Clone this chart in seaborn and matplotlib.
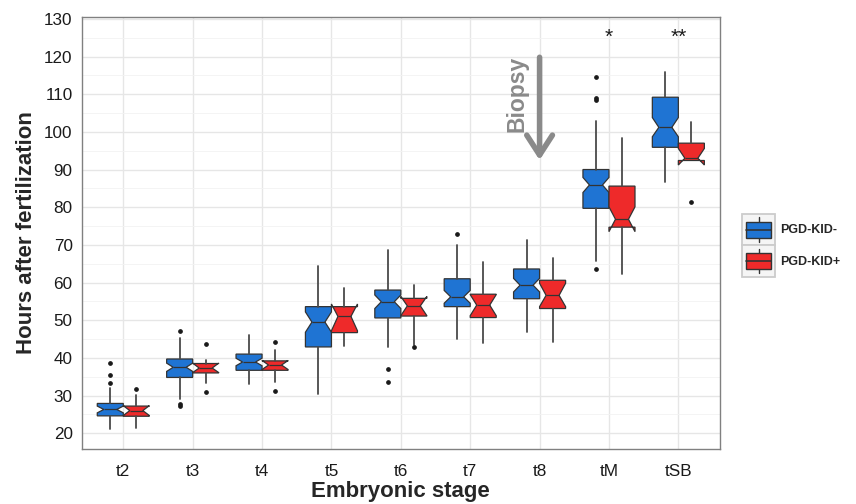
import numpy as np
import matplotlib
matplotlib.use('Agg')
import matplotlib.pyplot as plt
import seaborn as sns
from matplotlib.legend_handler import HandlerBase
from matplotlib.patches import Rectangle, Patch
from matplotlib.lines import Line2D

# categories / groups
stages = ['t2', 't3', 't4', 't5', 't6', 't7', 't8', 'tM', 'tSB']
groups = ['PGD-KID-', 'PGD-KID+']
colours = ['#1f74d3', '#ee2a2a']
EDGE = '#333333'

# PGD-KID-  (box statistics, hours)
neg_whislo = [21.2, 29.0, 33.0, 30.4, 42.9, 45.1, 46.9, 65.8, 86.6]
neg_q1 = [24.6, 34.8, 36.7, 42.9, 50.6, 53.6, 55.7, 79.7, 95.9]
neg_med = [26.3, 37.5, 38.9, 49.5, 54.9, 56.2, 59.3, 85.9, 101.2]
neg_q3 = [27.9, 39.7, 41.0, 53.6, 58.0, 61.0, 63.6, 90.0, 109.2]
neg_whishi = [31.9, 45.2, 46.0, 64.4, 68.6, 69.9, 71.4, 102.9, 116.0]
neg_notch_lo = [25.4, 36.4, 37.9, 46.8, 53.1, 54.5, 57.5, 83.9, 98.7]
neg_notch_hi = [27.2, 38.6, 39.9, 52.2, 56.7, 57.9, 61.1, 87.9, 103.8]
neg_fliers = [[33.2, 35.4, 38.7], [27.8, 27.2, 47.2], [], [], [37.0, 33.5],
              [72.9], [], [114.5, 109.1, 108.5, 63.5], []]

# PGD-KID+
pos_whislo = [21.5, 33.2, 33.6, 43.2, 43.4, 44.0, 44.3, 62.3, 92.4]
pos_q1 = [24.5, 36.0, 36.7, 46.7, 51.1, 50.7, 53.1, 74.7, 92.4]
pos_med = [26.0, 37.3, 38.1, 51.0, 53.8, 54.0, 56.6, 76.8, 93.0]
pos_q3 = [27.2, 38.5, 39.2, 53.6, 55.8, 56.9, 60.6, 85.6, 97.0]
pos_whishi = [30.1, 39.3, 42.2, 58.6, 59.3, 65.5, 66.4, 98.3, 102.5]
pos_notch_lo = [24.7, 36.1, 36.9, 47.2, 51.2, 51.2, 53.6, 73.5, 91.2]
pos_notch_hi = [27.3, 38.6, 39.3, 54.3, 56.3, 56.8, 59.8, 80.1, 95.6]
pos_fliers = [[31.7], [43.8, 31.0], [44.3, 31.3], [], [42.9], [], [], [], [81.5]]

# significance marks
star_stages = ['tM', 'tSB']
star_labels = ['*', '**']
star_y = 125.0

# biopsy arrow
biopsy_stage = 't8'
biopsy_from, biopsy_to = 119.8, 92.5


def make_stats(whislo, q1, med, q3, whishi, nlo, nhi, fliers):
    stats = []
    for i in range(len(stages)):
        stats.append(dict(whislo=whislo[i], q1=q1[i], med=med[i], q3=q3[i],
                          whishi=whishi[i], cilo=nlo[i], cihi=nhi[i],
                          fliers=np.array(fliers[i]), label=stages[i]))
    return stats


class BoxKeyHandler(HandlerBase):
    def create_artists(self, legend, orig_handle, xdescent, ydescent,
                       width, height, fontsize, trans):
        x0, y0 = -xdescent, -ydescent
        bg = Rectangle((x0, y0), width, height, facecolor='#f5f5f5',
                       edgecolor='#cccccc', lw=1.3, transform=trans)
        whisk = Line2D([x0 + width / 2] * 2, [y0 + height * 0.1, y0 + height * 0.9],
                       color=EDGE, lw=1, transform=trans)
        box = Rectangle((x0 + width * 0.12, y0 + height * 0.25), width * 0.76, height * 0.5,
                        facecolor=orig_handle.get_facecolor(), edgecolor=EDGE,
                        lw=1, transform=trans)
        med = Line2D([x0 + width * 0.12, x0 + width * 0.88], [y0 + height / 2] * 2,
                     color=EDGE, lw=1.2, transform=trans)
        return [bg, whisk, box, med]


sns.set_theme(style='whitegrid')
plt.rcParams['font.family'] = ['Liberation Sans', 'DejaVu Sans']

fig = plt.figure(figsize=(8.56, 5.04), dpi=100)
ax = fig.add_axes([0.0954, 0.1091, 0.7457, 0.8572])

all_stats = [
    make_stats(neg_whislo, neg_q1, neg_med, neg_q3, neg_whishi, neg_notch_lo, neg_notch_hi, neg_fliers),
    make_stats(pos_whislo, pos_q1, pos_med, pos_q3, pos_whishi, pos_notch_lo, pos_notch_hi, pos_fliers),
]
width = 0.375
offsets = [-width / 2, width / 2]
x = np.arange(len(stages))
for stats, off, col in zip(all_stats, offsets, colours):
    ax.bxp(stats, positions=x + off, widths=width, patch_artist=True,
           shownotches=True, showcaps=False, manage_ticks=False,
           boxprops=dict(facecolor=col, edgecolor=EDGE, linewidth=0.9),
           whiskerprops=dict(color='#4a4a4a', linewidth=1.3),
           medianprops=dict(color=EDGE, linewidth=0.9),
           flierprops=dict(marker='o', markersize=2.4, markerfacecolor='#1a1a1a',
                           markeredgecolor='#1a1a1a', linestyle='none'))

ax.set_xticks(x)
ax.set_xticklabels(stages)
ax.set_xlim(-0.6, len(stages) - 0.4)
ax.set_ylim(15.8, 130.5)
ax.set_yticks(np.arange(20, 131, 10))
ax.set_yticks(np.arange(25, 130, 10), minor=True)
ax.grid(True, which='major', color='#e6e6e6', linewidth=1.0)
ax.grid(True, which='minor', axis='y', color='#f2f2f2', linewidth=0.6)
ax.set_axisbelow(True)
for s in ax.spines.values():
    s.set_color('#808080')
    s.set_linewidth(1.0)
ax.tick_params(which='major', length=3.5, width=0.9, color='#333333',
               labelsize=12.3, labelcolor='#1a1a1a')
ax.tick_params(axis='x', pad=7)
ax.tick_params(axis='y', pad=3)
ax.tick_params(which='minor', length=0)

ax.set_xlabel('Embryonic stage', fontsize=16, fontweight='bold', labelpad=2)
ax.set_ylabel('Hours after fertilization', fontsize=16, fontweight='bold', labelpad=5)

for st, lab in zip(star_stages, star_labels):
    ax.text(stages.index(st), star_y, lab, ha='center', va='center',
            fontsize=15, color='#1a1a1a')

bx = stages.index(biopsy_stage)
ax.annotate('', xy=(bx, biopsy_to), xytext=(bx, biopsy_from),
            arrowprops=dict(arrowstyle='->,head_length=0.65,head_width=0.42',
                            lw=4.0, color='#8a8a8a', mutation_scale=22,
                            shrinkA=0, shrinkB=0))
ax.text(bx - 0.33, 110, 'Biopsy', rotation=90, ha='center', va='center',
        fontsize=16.5, fontweight='bold', color='#8a8a8a')

handles = [Patch(facecolor=c, edgecolor=EDGE) for c in colours]
fig.legend(handles, groups, handler_map={Patch: BoxKeyHandler()},
           loc='center left', bbox_to_anchor=(0.860, 0.513), frameon=False,
           prop=dict(size=9, weight='bold'), handlelength=2.6, handleheight=3.45,
           labelspacing=0.0, handletextpad=0.4, borderpad=0)

fig.savefig('out.png', dpi=100)
